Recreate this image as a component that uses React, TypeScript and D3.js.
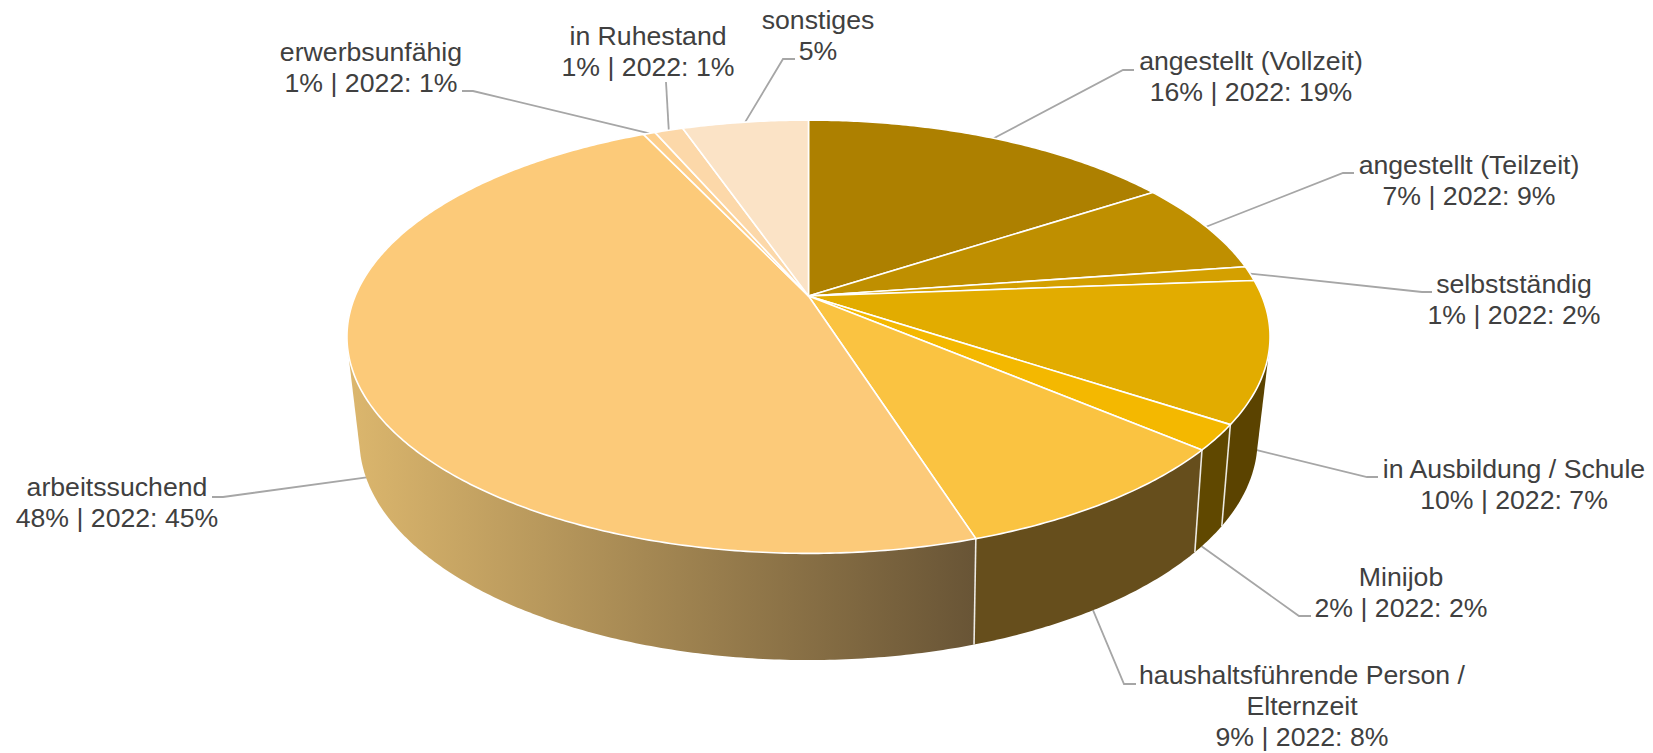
import React from "react";
import * as d3 from "d3";

// ---- data -------------------------------------------------------------
const categories = [
  "angestellt (Vollzeit)",
  "angestellt (Teilzeit)",
  "selbstständig",
  "in Ausbildung / Schule",
  "Minijob",
  "haushaltsführende Person / Elternzeit",
  "arbeitssuchend",
  "erwerbsunfähig",
  "in Ruhestand",
  "sonstiges",
];
const shares = [15.8, 6.9, 1.1, 10.5, 1.9, 8.9, 47.9, 0.5, 1.2, 5.3];
const valueTexts = [
  "16% | 2022: 19%",
  "7% | 2022: 9%",
  "1% | 2022: 2%",
  "10% | 2022: 7%",
  "2% | 2022: 2%",
  "9% | 2022: 8%",
  "48% | 2022: 45%",
  "1% | 2022: 1%",
  "1% | 2022: 1%",
  "5%",
];

// ---- styles and layout --------------------------------------------------
const topColors = ["#AD8000", "#BF8F00", "#D4A000", "#E2AC00", "#F4B800", "#FAC341", "#FCCA79", "#FDCF8C", "#FCD8A9", "#FBE3C6"];
const sideColors = ["#574000", "#5F4700", "#604800", "#5B4300", "#604800", "#664E1C", "url(#sideGrad)", "#7E6A48", "#7E6E54", "#7E7260"];

const W = 1653;
const H = 753;
const FONT = 26.67;
const LINE = 31;

// perspective discs: top face and bottom face of the cylinder, and the plane leaders start on
const topDisc = { cx: 808.5, cy: 296, a: 453.3, b: 209, k: 0.188 };
const botDisc = { cx: 808.5, cy: 394.9, a: 439.5, b: 210.8, k: 0.205 };
const leaderDisc = { cx: 808.5, cy: 403.7, a: 442.8, b: 214, k: 0.165 };

type Disc = typeof topDisc;
const project = (d: Disc, t: number): [number, number] => {
  const w = 1 + d.k * Math.cos(t);
  return [d.cx + (d.a * Math.sin(t)) / w, d.cy - (d.b * Math.cos(t)) / w];
};

// label layout per category: text lines, centre x, first baseline, elbow, end, anchor depth
const labelLayout = [
  { lines: ["angestellt (Vollzeit)"], x: 1251, y: 69.5, elbow: [1123, 70], end: [1134, 70], depth: 0 },
  { lines: ["angestellt (Teilzeit)"], x: 1469, y: 173.5, elbow: [1343, 173], end: [1354, 173], depth: 0 },
  { lines: ["selbstständig"], x: 1514, y: 292.5, elbow: [1422, 292], end: [1432, 292], depth: 0 },
  { lines: ["in Ausbildung / Schule"], x: 1514, y: 477.5, elbow: [1367, 477], end: [1378, 477], depth: 0.91 },
  { lines: ["Minijob"], x: 1401, y: 586, elbow: [1299, 616], end: [1311, 616], depth: 1 },
  { lines: ["haushaltsführende Person /", "Elternzeit"], x: 1302, y: 684, elbow: [1124, 684], end: [1136, 684], depth: 1 },
  { lines: ["arbeitssuchend"], x: 117, y: 496, elbow: [223, 497], end: [212, 497], depth: 0.91 },
  { lines: ["erwerbsunfähig"], x: 371, y: 61, elbow: [473, 91], end: [462, 91], depth: 0 },
  { lines: ["in Ruhestand"], x: 648, y: 45, elbow: [666, 82], end: [666, 82], depth: 0 },
  { lines: ["sonstiges"], x: 818, y: 28.5, elbow: [783, 59], end: [795, 59], depth: 0 },
];

const arcSamples = (a0: number, a1: number) => {
  const n = Math.max(2, Math.ceil((a1 - a0) / 0.01));
  return d3.range(n + 1).map((i) => a0 + ((a1 - a0) * i) / n);
};

export default function App() {
  const arcs = d3
    .pie<number>()
    .sort(null)
    .value((d) => d)(shares);
  const line = d3.line();

  return (
    <svg
      width={W}
      height={H}
      viewBox={`0 0 ${W} ${H}`}
      style={{ position: "absolute", left: 0, top: 0, background: "#fff" }}
    >
      <defs>
        <linearGradient id="sideGrad" gradientUnits="userSpaceOnUse" x1={352} y1={0} x2={972} y2={0}>
          <stop offset="0" stopColor="#DBB66D" />
          <stop offset="1" stopColor="#695536" />
        </linearGradient>
      </defs>

      {/* leader lines */}
      <g fill="none" stroke="#A6A6A6" strokeWidth={1.8}>
        {arcs.map((s, i) => {
          const mid = (s.startAngle + s.endAngle) / 2;
          const l = labelLayout[i];
          const p = project(topDisc, mid);
          const q = project(leaderDisc, mid);
          const anchor: [number, number] = [
            p[0] + (q[0] - p[0]) * l.depth,
            p[1] + (q[1] - p[1]) * l.depth,
          ];
          return <path key={i} d={line([anchor, l.elbow as [number, number], l.end as [number, number]]) ?? ""} />;
        })}
      </g>

      {/* cylinder wall */}
      <g>
        {arcs.map((s, i) => {
          const ts = arcSamples(s.startAngle, s.endAngle);
          const pts = [...ts.map((t) => project(topDisc, t)), ...ts.map((t) => project(botDisc, t))];
          const hull = d3.polygonHull(pts) ?? pts;
          return <path key={i} d={(line(hull) ?? "") + "Z"} fill={sideColors[i]} />;
        })}
        {arcs
          .filter((s) => Math.cos(s.endAngle) < 0 && s.endAngle < Math.PI * 1.5)
          .map((s, i) => (
            <path
              key={i}
              d={line([project(topDisc, s.endAngle), project(botDisc, s.endAngle)]) ?? ""}
              stroke="#fff"
              strokeOpacity={0.85}
              strokeWidth={1.6}
              fill="none"
            />
          ))}
      </g>

      {/* top face */}
      <g stroke="#fff" strokeWidth={1.6} strokeLinejoin="round">
        {arcs.map((s, i) => {
          const rim = arcSamples(s.startAngle, s.endAngle).map((t) => project(topDisc, t));
          const apex: [number, number] = [topDisc.cx, topDisc.cy];
          return <path key={i} d={(line([apex, ...rim]) ?? "") + "Z"} fill={topColors[i]} />;
        })}
      </g>

      {/* labels */}
      <g
        fontFamily="'Liberation Sans', Arial, sans-serif"
        fontSize={FONT}
        fill="#404040"
        textAnchor="middle"
      >
        {categories.map((c, i) => {
          const l = labelLayout[i];
          const rows = [...l.lines, valueTexts[i]];
          return (
            <text key={c}>
              {rows.map((r, j) => (
                <tspan key={j} x={l.x} y={l.y + j * LINE}>
                  {r}
                </tspan>
              ))}
            </text>
          );
        })}
      </g>
    </svg>
  );
}
